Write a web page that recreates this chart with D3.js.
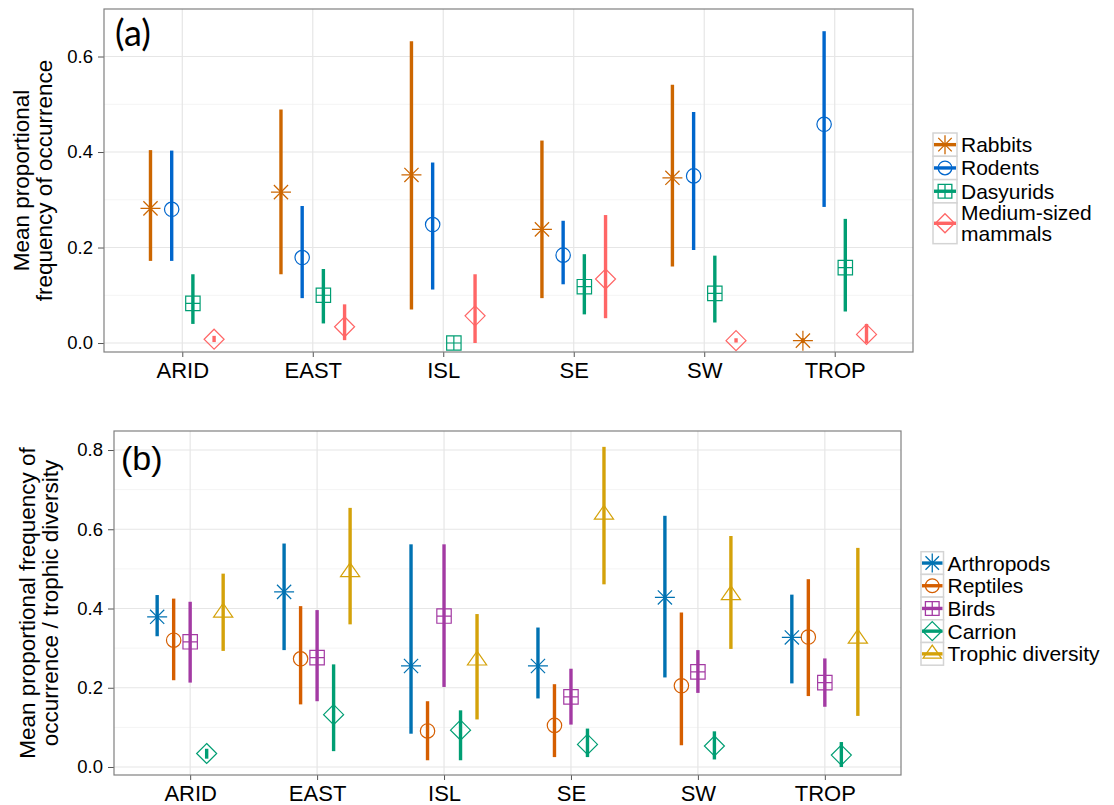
<!DOCTYPE html>
<html>
<head>
<meta charset="utf-8">
<script src="https://cdn.jsdelivr.net/npm/d3@7"></script>
<style>
  body { margin: 0; background: #fff; }
  svg text { font-family: "Liberation Sans", Arial, sans-serif; fill: #000; }
</style>
</head>
<body>
<div id="viz"></div>
<script>
var regions = ["ARID", "EAST", "ISL", "SE", "SW", "TROP"];

// (a) mammal prey: mean and interval per region
var mammalNames = ["Rabbits", "Rodents", "Dasyurids", "Medium-sized mammals"];
var rabbitsMean = [0.282, 0.316, 0.352, 0.238, 0.346, 0.005];
var rabbitsLow  = [0.172, 0.144, 0.070, 0.094, 0.160, 0.000];
var rabbitsHigh = [0.404, 0.489, 0.632, 0.424, 0.541, 0.010];
var rodentsMean = [0.280, 0.179, 0.248, 0.184, 0.350, 0.458];
var rodentsLow  = [0.172, 0.094, 0.112, 0.123, 0.195, 0.285];
var rodentsHigh = [0.403, 0.287, 0.378, 0.256, 0.484, 0.653];
var dasyMean = [0.083, 0.100, 0.000, 0.118, 0.104, 0.158];
var dasyLow  = [0.040, 0.041, 0.000, 0.060, 0.043, 0.066];
var dasyHigh = [0.144, 0.155, 0.000, 0.186, 0.183, 0.260];
var medMean = [0.008, 0.034, 0.057, 0.134, 0.005, 0.018];
var medLow  = [0.002, 0.006, 0.000, 0.052, 0.001, 0.000];
var medHigh = [0.015, 0.081, 0.144, 0.268, 0.010, 0.040];

// (b) diet groups
var dietNames = ["Arthropods", "Reptiles", "Birds", "Carrion", "Trophic diversity"];
var arthMean = [0.379, 0.442, 0.255, 0.255, 0.428, 0.327];
var arthLow  = [0.330, 0.295, 0.084, 0.173, 0.226, 0.211];
var arthHigh = [0.434, 0.564, 0.562, 0.352, 0.634, 0.435];
var reptMean = [0.320, 0.273, 0.091, 0.105, 0.205, 0.328];
var reptLow  = [0.219, 0.158, 0.017, 0.025, 0.055, 0.179];
var reptHigh = [0.425, 0.406, 0.166, 0.209, 0.390, 0.474];
var birdMean = [0.316, 0.276, 0.381, 0.177, 0.240, 0.213];
var birdLow  = [0.213, 0.166, 0.202, 0.107, 0.187, 0.152];
var birdHigh = [0.417, 0.396, 0.562, 0.248, 0.295, 0.274];
var carrMean = [0.034, 0.132, 0.093, 0.057, 0.053, 0.030];
var carrLow  = [0.021, 0.040, 0.017, 0.025, 0.019, 0.000];
var carrHigh = [0.046, 0.259, 0.143, 0.097, 0.090, 0.063];
var trophMean = [0.390, 0.492, 0.269, 0.637, 0.434, 0.324];
var trophLow  = [0.293, 0.360, 0.120, 0.461, 0.298, 0.129];
var trophHigh = [0.488, 0.654, 0.386, 0.808, 0.583, 0.553];

var ticksA = [0, 0.2, 0.4, 0.6];
var minorA = [0.1, 0.3, 0.5];
var ticksB = [0, 0.2, 0.4, 0.6, 0.8];
var minorB = [0.1, 0.3, 0.5, 0.7];

var W = 1114, H = 805;
var svg = d3.select('#viz').append('svg')
    .attr('width', W)
    .attr('height', H);

// point glyphs, roughly following R's pch shapes
function glyph(shape, s) {
    s = s || 1;
    var p = d3.path();
    if (shape == 'asterisk') {
        var a = 10 * s, b = 7.1 * s;
        p.moveTo(-a, 0); p.lineTo(a, 0);
        p.moveTo(0, -a); p.lineTo(0, a);
        p.moveTo(-b, -b); p.lineTo(b, b);
        p.moveTo(-b, b); p.lineTo(b, -b);
    } else if (shape == 'circle') {
        var r = 7.2 * s;
        p.moveTo(r, 0); p.arc(0, 0, r, 0, 2 * Math.PI);
    } else if (shape == 'squareplus') {
        var h = 7.2 * s;
        p.rect(-h, -h, 2 * h, 2 * h);
        p.moveTo(-h, 0); p.lineTo(h, 0);
        p.moveTo(0, -h); p.lineTo(0, h);
    } else if (shape == 'diamond') {
        var d = 10 * s;
        p.moveTo(0, -d); p.lineTo(d, 0); p.lineTo(0, d); p.lineTo(-d, 0); p.closePath();
    } else if (shape == 'triangle') {
        var w = 9.6 * s;
        p.moveTo(0, -9.2 * s); p.lineTo(w, 4.6 * s); p.lineTo(-w, 4.6 * s); p.closePath();
    }
    return p.toString();
}

function draw_panel(cfg) {
    var x = d3.scalePoint().domain(regions).range([cfg.left, cfg.right]).padding(0.6);
    var y = d3.scaleLinear().domain(cfg.domain).range([cfg.bottom, cfg.top]);
    var step = x.step();
    var n = cfg.series.length;
    var dodge = 0.65 * step / n;

    var g = svg.append('g');

    // grid
    g.selectAll('.minor').data(cfg.minor).enter().append('line')
        .attr('x1', cfg.left).attr('x2', cfg.right)
        .attr('y1', function(d) { return y(d); }).attr('y2', function(d) { return y(d); })
        .attr('stroke', '#f4f4f4').attr('stroke-width', 1);
    g.selectAll('.major').data(cfg.ticks).enter().append('line')
        .attr('x1', cfg.left).attr('x2', cfg.right)
        .attr('y1', function(d) { return y(d); }).attr('y2', function(d) { return y(d); })
        .attr('stroke', '#e6e6e6').attr('stroke-width', 1.2);
    g.selectAll('.vgrid').data(regions).enter().append('line')
        .attr('x1', function(d) { return x(d); }).attr('x2', function(d) { return x(d); })
        .attr('y1', cfg.top).attr('y2', cfg.bottom)
        .attr('stroke', '#e6e6e6').attr('stroke-width', 1.2);

    // axes
    var yAxis = g.append('g')
        .attr('transform', 'translate(' + cfg.left + ',0)')
        .call(d3.axisLeft(y).tickValues(cfg.ticks).tickFormat(d3.format('.1f')).tickSize(6).tickPadding(5));
    yAxis.select('.domain').remove();
    yAxis.selectAll('line').attr('stroke', '#555');
    yAxis.selectAll('text').style('font-size', '18.5px').attr('fill', '#000');

    var xAxis = g.append('g')
        .attr('transform', 'translate(0,' + cfg.bottom + ')')
        .call(d3.axisBottom(x).tickSize(5).tickPadding(5));
    xAxis.select('.domain').remove();
    xAxis.selectAll('line').attr('stroke', '#555');
    xAxis.selectAll('text').style('font-size', '22px').attr('fill', '#000');

    // series
    cfg.series.forEach(function(s, i) {
        var off = (i - (n - 1) / 2) * dodge;
        var sg = g.append('g');
        sg.selectAll('line').data(regions).enter().append('line')
            .attr('x1', function(d) { return x(d) + off; })
            .attr('x2', function(d) { return x(d) + off; })
            .attr('y1', function(d, k) { return y(s.low[k]); })
            .attr('y2', function(d, k) { return y(s.high[k]); })
            .attr('stroke', s.color)
            .attr('stroke-width', 3.4);
        sg.selectAll('path').data(regions).enter().append('path')
            .attr('transform', function(d, k) {
                return 'translate(' + (x(d) + off) + ',' + y(s.mean[k]) + ')';
            })
            .attr('d', glyph(s.shape))
            .attr('fill', 'none')
            .attr('stroke', s.color)
            .attr('stroke-width', 1.2);
    });

    // panel border
    g.append('rect')
        .attr('x', cfg.left).attr('y', cfg.top)
        .attr('width', cfg.right - cfg.left).attr('height', cfg.bottom - cfg.top)
        .attr('fill', 'none').attr('stroke', '#808080').attr('stroke-width', 1.2);

    // tag
    g.append('text')
        .attr('x', cfg.tag.x).attr('y', cfg.tag.y)
        .style('font-family', cfg.tag.font)
        .style('font-size', cfg.tag.size + 'px')
        .text(cfg.tag.text);

    // y title
    var mid = (cfg.top + cfg.bottom) / 2;
    cfg.title.forEach(function(t, k) {
        g.append('text')
            .attr('transform', 'translate(' + cfg.titleX[k] + ',' + mid + ') rotate(-90)')
            .attr('text-anchor', 'middle')
            .style('font-size', '22.5px')
            .text(t);
    });

    // legend
    var lg = g.append('g');
    var yy = cfg.legend.top;
    cfg.series.forEach(function(s) {
        var lines = s.label;
        var kh = cfg.legend.key * (lines.length > 1 ? 1.75 : 1);
        var kx = cfg.legend.x, kw = cfg.legend.kw;
        lg.append('rect')
            .attr('x', kx).attr('y', yy).attr('width', kw).attr('height', kh)
            .attr('fill', '#fff').attr('stroke', '#d4d4d4').attr('stroke-width', 1.5);
        lg.append('line')
            .attr('x1', kx + 1).attr('x2', kx + kw - 1)
            .attr('y1', yy + kh / 2).attr('y2', yy + kh / 2)
            .attr('stroke', s.color).attr('stroke-width', 3.4);
        lg.append('path')
            .attr('transform', 'translate(' + (kx + kw / 2) + ',' + (yy + kh / 2) + ')')
            .attr('d', glyph(s.shape, 0.95))
            .attr('fill', 'none').attr('stroke', s.color).attr('stroke-width', 1.3);
        lines.forEach(function(t, k) {
            lg.append('text')
                .attr('x', kx + kw + 4)
                .attr('y', yy + kh / 2 + 7.5 - (lines.length - 1) * 10.5 + k * 21)
                .style('font-size', '21px')
                .text(t);
        });
        yy += kh;
    });
}

draw_panel({
    left: 104, right: 913, top: 9, bottom: 352,
    domain: [-0.0188, 0.6995],
    ticks: ticksA, minor: minorA,
    tag: { text: '(a)', x: 115, y: 46, size: 36, font: 'Lato, "Open Sans", sans-serif' },
    title: ['Mean proportional', 'frequency of occurrence'],
    titleX: [29, 52],
    legend: { x: 933, kw: 24, top: 133, key: 23.3 },
    series: [
        { label: ['Rabbits'], mean: rabbitsMean, low: rabbitsLow, high: rabbitsHigh, color: '#CC6600', shape: 'asterisk' },
        { label: ['Rodents'], mean: rodentsMean, low: rodentsLow, high: rodentsHigh, color: '#0066CC', shape: 'circle' },
        { label: ['Dasyurids'], mean: dasyMean, low: dasyLow, high: dasyHigh, color: '#009E73', shape: 'squareplus' },
        { label: ['Medium-sized', 'mammals'], mean: medMean, low: medLow, high: medHigh, color: '#FF6666', shape: 'diamond' }
    ]
});

draw_panel({
    left: 114, right: 901, top: 431, bottom: 775,
    domain: [-0.0202, 0.848],
    ticks: ticksB, minor: minorB,
    tag: { text: '(b)', x: 121, y: 470, size: 34, font: '"Liberation Sans", Arial, sans-serif' },
    title: ['Mean proportional frequency of', 'occurrence / trophic diversity'],
    titleX: [35, 58],
    legend: { x: 921, kw: 22.5, top: 551.7, key: 22.7 },
    series: [
        { label: ['Arthropods'], mean: arthMean, low: arthLow, high: arthHigh, color: '#0072B2', shape: 'asterisk' },
        { label: ['Reptiles'], mean: reptMean, low: reptLow, high: reptHigh, color: '#D55E00', shape: 'circle' },
        { label: ['Birds'], mean: birdMean, low: birdLow, high: birdHigh, color: '#A33AA3', shape: 'squareplus' },
        { label: ['Carrion'], mean: carrMean, low: carrLow, high: carrHigh, color: '#009E73', shape: 'diamond' },
        { label: ['Trophic diversity'], mean: trophMean, low: trophLow, high: trophHigh, color: '#D4A20A', shape: 'triangle' }
    ]
});
</script>
</body>
</html>
